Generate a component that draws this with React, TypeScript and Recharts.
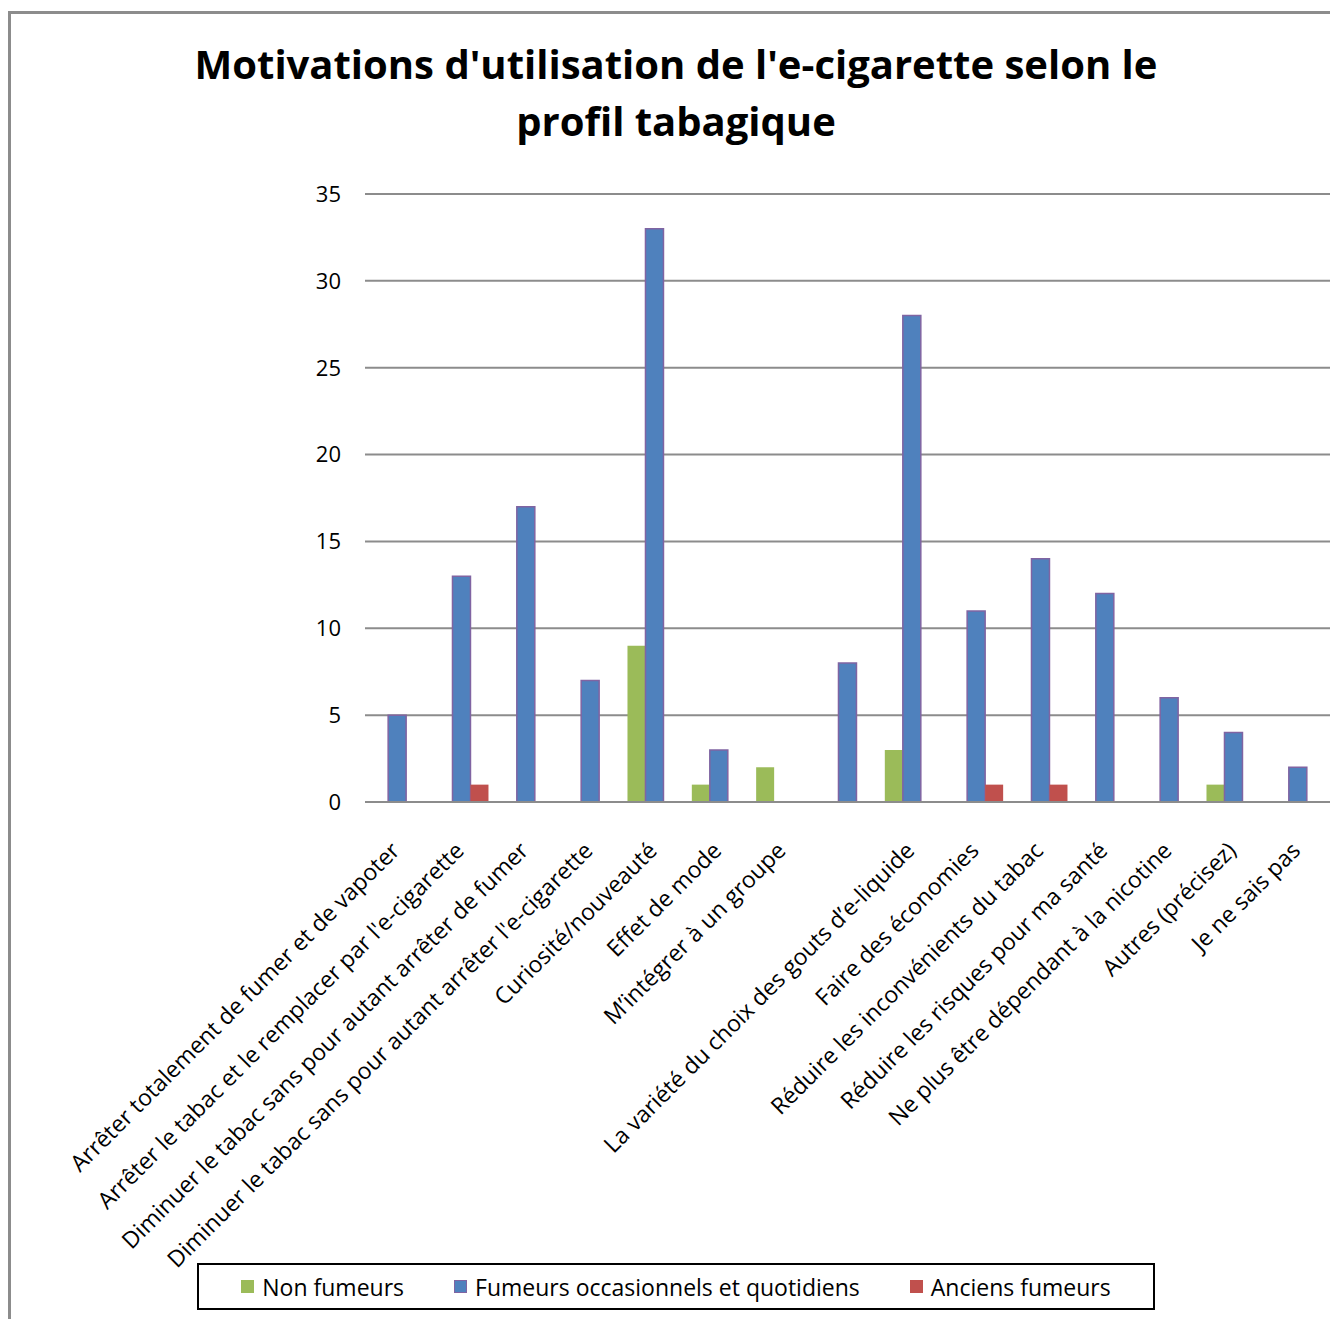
import React from 'react';
import { BarChart, Bar, XAxis, YAxis, CartesianGrid, Legend } from 'recharts';

const categories = [
  'Arrêter totalement de fumer et de vapoter',
  "Arrêter le tabac et le remplacer par l'e-cigarette",
  'Diminuer le tabac sans pour autant arrêter de fumer',
  "Diminuer le tabac sans pour autant arrêter l'e-cigarette",
  'Curiosité/nouveauté',
  'Effet de mode',
  'M’intégrer à un groupe',
  '',
  'La variété du choix des gouts d’e-liquide',
  'Faire des économies',
  'Réduire les inconvénients du tabac',
  'Réduire les risques pour ma santé',
  'Ne plus être dépendant à la nicotine',
  'Autres (précisez)',
  'Je ne sais pas',
];

const nonFumeurs = [0, 0, 0, 0, 9, 1, 2, 0, 3, 0, 0, 0, 0, 1, 0];
const fumeurs = [5, 13, 17, 7, 33, 3, 0, 8, 28, 11, 14, 12, 6, 4, 2];
const anciens = [0, 1, 0, 0, 0, 0, 0, 0, 0, 1, 1, 0, 0, 0, 0];

const yTicks = [0, 5, 10, 15, 20, 25, 30, 35];

const series = [
  { key: 'nonFumeurs', name: 'Non fumeurs', color: '#9BBB59', stroke: 'none' },
  { key: 'fumeurs', name: 'Fumeurs occasionnels et quotidiens', color: '#4F81BD', stroke: '#8064A2' },
  { key: 'anciens', name: 'Anciens fumeurs', color: '#C0504D', stroke: 'none' },
];

const data = categories.map((name, i) => ({
  name,
  nonFumeurs: nonFumeurs[i],
  fumeurs: fumeurs[i],
  anciens: anciens[i],
}));

const FONT = '"Open Sans", Lato, sans-serif';

function CategoryTick(props: any) {
  const { x, y, payload } = props;
  const tx = x + 4;
  const ty = y + 42;
  return (
    <text
      x={tx}
      y={ty}
      textAnchor="end"
      fontSize={23}
      fontFamily={FONT}
      fill="#000"
      transform={`rotate(-45, ${tx}, ${ty})`}
    >
      {payload.value}
    </text>
  );
}

function LegendBox() {
  return (
    <div
      style={{
        width: 954,
        height: 43,
        border: '2px solid #000',
        display: 'flex',
        alignItems: 'center',
        justifyContent: 'center',
        gap: 50,
        fontFamily: FONT,
        fontSize: 23,
        color: '#000',
        background: '#fff',
      }}
    >
      {series.map((s) => (
        <div key={s.key} style={{ display: 'flex', alignItems: 'center' }}>
          <span
            style={{
              display: 'inline-block',
              width: 13,
              height: 13,
              background: s.color,
              boxSizing: 'border-box',
              border: s.stroke === 'none' ? 'none' : `1.5px solid ${s.stroke}`,
              marginRight: 8,
            }}
          />
          <span>{s.name}</span>
        </div>
      ))}
    </div>
  );
}

export default function App() {
  return (
    <div style={{ position: 'absolute', left: 0, top: 0, width: 1330, height: 1319, background: '#fff', overflow: 'hidden' }}>
      <div
        style={{
          position: 'absolute',
          left: 8,
          top: 11,
          width: 1330,
          height: 1319,
          borderLeft: '3px solid #8c8c8c',
          borderTop: '3px solid #8c8c8c',
        }}
      />
      <div
        style={{
          position: 'absolute',
          left: 0,
          top: 35,
          width: 1352,
          textAlign: 'center',
          fontFamily: FONT,
          fontWeight: 700,
          fontSize: 40,
          lineHeight: '57px',
          color: '#000',
        }}
      >
        Motivations d'utilisation de l'e-cigarette selon le
        <br />
        profil tabagique
      </div>
      <div style={{ position: 'absolute', left: 0, top: 0 }}>
        <BarChart
          width={1330}
          height={1319}
          data={data}
          margin={{ top: 194, right: 0, left: 0, bottom: 217 }}
          barCategoryGap="8%"
          barGap={0}
        >
          <CartesianGrid vertical={false} stroke="#8c8c8c" strokeWidth={2} />
          <XAxis
            dataKey="name"
            interval={0}
            height={300}
            tickLine={false}
            axisLine={{ stroke: '#8c8c8c', strokeWidth: 2 }}
            tick={<CategoryTick />}
          />
          <YAxis
            width={365}
            domain={[0, 35]}
            ticks={yTicks}
            tickLine={false}
            axisLine={false}
            tickSize={0}
            tickMargin={24}
            tick={{ fontSize: 22, fontFamily: FONT, fill: '#000' }}
          />
          {series.map((s) => (
            <Bar
              key={s.key}
              dataKey={s.key}
              name={s.name}
              fill={s.color}
              stroke={s.stroke}
              strokeWidth={s.stroke === 'none' ? 0 : 1.5}
              isAnimationActive={false}
            />
          ))}
          <Legend
            layout="horizontal"
            verticalAlign="middle"
            align="center"
            content={() => <LegendBox />}
            wrapperStyle={{ left: 197, top: 1263, width: 958 }}
          />
        </BarChart>
      </div>
    </div>
  );
}
